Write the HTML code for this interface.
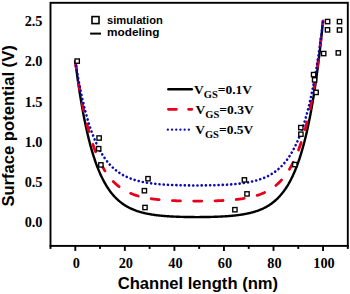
<!DOCTYPE html>
<html><head><meta charset="utf-8"><style>
html,body{margin:0;padding:0;background:#fff;}
body{width:350px;height:294px;overflow:hidden;position:relative;}
svg{position:absolute;left:0;top:0;}
.serif{font-family:"Liberation Serif",serif;font-weight:bold;}
.sans{font-family:"Liberation Sans",sans-serif;font-weight:bold;}
</style></head><body>
<svg width="350" height="294" viewBox="0 0 350 294">
<g fill="none" stroke-linejoin="round">
<path d="M75.30,61.10 L75.92,65.98 L76.54,70.70 L77.16,75.28 L77.78,79.72 L78.40,84.02 L79.02,88.18 L79.64,92.22 L80.25,96.13 L80.87,99.91 L81.49,103.58 L82.11,107.14 L82.73,110.58 L83.35,113.92 L83.97,117.15 L84.59,120.28 L85.21,123.32 L85.83,126.26 L86.45,129.11 L87.07,131.87 L87.69,134.54 L88.31,137.13 L88.93,139.64 L89.55,142.07 L90.16,144.43 L90.78,146.71 L91.40,148.92 L92.02,151.06 L92.64,153.14 L93.26,155.15 L93.88,157.10 L94.50,158.99 L95.12,160.82 L95.74,162.59 L96.36,164.31 L96.98,165.97 L97.60,167.58 L98.22,169.14 L98.84,170.65 L99.46,172.12 L100.07,173.54 L100.69,174.92 L101.31,176.25 L101.93,177.54 L102.55,178.79 L103.17,180.00 L103.79,181.18 L104.41,182.31 L105.03,183.42 L105.65,184.48 L106.27,185.52 L106.89,186.52 L107.51,187.49 L108.13,188.43 L108.75,189.35 L109.37,190.23 L109.98,191.08 L110.60,191.91 L111.22,192.72 L111.84,193.49 L112.46,194.25 L113.08,194.98 L113.70,195.69 L114.32,196.37 L114.94,197.04 L115.56,197.68 L116.18,198.30 L116.80,198.91 L117.42,199.49 L118.04,200.06 L118.66,200.61 L119.28,201.14 L119.89,201.66 L120.51,202.16 L121.13,202.64 L121.75,203.11 L122.37,203.56 L122.99,204.00 L123.61,204.43 L124.23,204.84 L124.85,205.24 L125.47,205.63 L126.09,206.01 L126.71,206.37 L127.33,206.72 L127.95,207.06 L128.57,207.40 L129.19,207.72 L129.81,208.03 L130.42,208.33 L131.04,208.62 L131.66,208.90 L132.28,209.17 L132.90,209.44 L133.52,209.70 L134.14,209.95 L134.76,210.19 L135.38,210.42 L136.00,210.65 L136.62,210.86 L137.24,211.08 L137.86,211.28 L138.48,211.48 L139.10,211.67 L139.72,211.86 L140.33,212.04 L140.95,212.22 L141.57,212.39 L142.19,212.55 L142.81,212.71 L143.43,212.87 L144.05,213.02 L144.67,213.16 L145.29,213.30 L145.91,213.44 L146.53,213.57 L147.15,213.69 L147.77,213.82 L148.39,213.94 L149.01,214.05 L149.62,214.17 L150.24,214.27 L150.86,214.38 L151.48,214.48 L152.10,214.58 L152.72,214.67 L153.34,214.77 L153.96,214.86 L154.58,214.94 L155.20,215.03 L155.82,215.11 L156.44,215.19 L157.06,215.26 L157.68,215.34 L158.30,215.41 L158.92,215.48 L159.53,215.54 L160.15,215.61 L160.77,215.67 L161.39,215.73 L162.01,215.79 L162.63,215.84 L163.25,215.90 L163.87,215.95 L164.49,216.00 L165.11,216.05 L165.73,216.10 L166.35,216.15 L166.97,216.19 L167.59,216.23 L168.21,216.27 L168.83,216.31 L169.44,216.35 L170.06,216.39 L170.68,216.43 L171.30,216.46 L171.92,216.49 L172.54,216.53 L173.16,216.56 L173.78,216.59 L174.40,216.62 L175.02,216.64 L175.64,216.67 L176.26,216.70 L176.88,216.72 L177.50,216.74 L178.12,216.77 L178.74,216.79 L179.36,216.81 L179.97,216.83 L180.59,216.85 L181.21,216.87 L181.83,216.88 L182.45,216.90 L183.07,216.92 L183.69,216.93 L184.31,216.94 L184.93,216.96 L185.55,216.97 L186.17,216.98 L186.79,216.99 L187.41,217.00 L188.03,217.01 L188.65,217.02 L189.26,217.03 L189.88,217.04 L190.50,217.05 L191.12,217.05 L191.74,217.06 L192.36,217.06 L192.98,217.07 L193.60,217.07 L194.22,217.07 L194.84,217.08 L195.46,217.08 L196.08,217.08 L196.70,217.08 L197.32,217.08 L197.94,217.08 L198.56,217.08 L199.18,217.08 L199.79,217.07 L200.41,217.07 L201.03,217.07 L201.65,217.06 L202.27,217.06 L202.89,217.05 L203.51,217.04 L204.13,217.04 L204.75,217.03 L205.37,217.02 L205.99,217.01 L206.61,217.00 L207.23,216.99 L207.85,216.98 L208.47,216.97 L209.08,216.95 L209.70,216.94 L210.32,216.93 L210.94,216.91 L211.56,216.90 L212.18,216.88 L212.80,216.86 L213.42,216.84 L214.04,216.82 L214.66,216.80 L215.28,216.78 L215.90,216.76 L216.52,216.74 L217.14,216.71 L217.76,216.69 L218.38,216.66 L219.00,216.64 L219.61,216.61 L220.23,216.58 L220.85,216.55 L221.47,216.52 L222.09,216.49 L222.71,216.45 L223.33,216.42 L223.95,216.38 L224.57,216.34 L225.19,216.31 L225.81,216.26 L226.43,216.22 L227.05,216.18 L227.67,216.13 L228.29,216.09 L228.90,216.04 L229.52,215.99 L230.14,215.94 L230.76,215.89 L231.38,215.83 L232.00,215.77 L232.62,215.72 L233.24,215.65 L233.86,215.59 L234.48,215.53 L235.10,215.46 L235.72,215.39 L236.34,215.32 L236.96,215.24 L237.58,215.17 L238.20,215.09 L238.81,215.01 L239.43,214.92 L240.05,214.84 L240.67,214.75 L241.29,214.65 L241.91,214.56 L242.53,214.46 L243.15,214.35 L243.77,214.25 L244.39,214.14 L245.01,214.03 L245.63,213.91 L246.25,213.79 L246.87,213.67 L247.49,213.54 L248.11,213.40 L248.73,213.27 L249.34,213.13 L249.96,212.98 L250.58,212.83 L251.20,212.67 L251.82,212.51 L252.44,212.35 L253.06,212.18 L253.68,212.00 L254.30,211.82 L254.92,211.63 L255.54,211.44 L256.16,211.23 L256.78,211.03 L257.40,210.81 L258.02,210.59 L258.63,210.37 L259.25,210.13 L259.87,209.89 L260.49,209.64 L261.11,209.38 L261.73,209.11 L262.35,208.84 L262.97,208.55 L263.59,208.26 L264.21,207.95 L264.83,207.64 L265.45,207.32 L266.07,206.99 L266.69,206.64 L267.31,206.29 L267.93,205.92 L268.55,205.54 L269.16,205.15 L269.78,204.75 L270.40,204.33 L271.02,203.90 L271.64,203.46 L272.26,203.00 L272.88,202.53 L273.50,202.04 L274.12,201.54 L274.74,201.02 L275.36,200.48 L275.98,199.93 L276.60,199.36 L277.22,198.77 L277.84,198.16 L278.45,197.53 L279.07,196.88 L279.69,196.21 L280.31,195.52 L280.93,194.81 L281.55,194.07 L282.17,193.31 L282.79,192.53 L283.41,191.72 L284.03,190.88 L284.65,190.02 L285.27,189.13 L285.89,188.21 L286.51,187.27 L287.13,186.29 L287.75,185.28 L288.37,184.24 L288.98,183.16 L289.60,182.05 L290.22,180.90 L290.84,179.72 L291.46,178.50 L292.08,177.24 L292.70,175.94 L293.32,174.59 L293.94,173.21 L294.56,171.78 L295.18,170.30 L295.80,168.78 L296.42,167.20 L297.04,165.58 L297.66,163.90 L298.27,162.18 L298.89,160.39 L299.51,158.55 L300.13,156.65 L300.75,154.68 L301.37,152.66 L301.99,150.56 L302.61,148.41 L303.23,146.18 L303.85,143.88 L304.47,141.50 L305.09,139.06 L305.71,136.53 L306.33,133.92 L306.95,131.22 L307.57,128.44 L308.19,125.57 L308.80,122.61 L309.42,119.55 L310.04,116.40 L310.66,113.14 L311.28,109.78 L311.90,106.31 L312.52,102.73 L313.14,99.03 L313.76,95.21 L314.38,91.28 L315.00,87.21 L315.62,83.02 L316.24,78.68 L316.86,74.21 L317.48,69.60 L318.10,64.84 L318.71,59.92 L319.33,54.85 L319.95,49.62 L320.57,44.21 L321.19,38.63 L321.81,32.88 L322.43,26.93 L323.05,20.80" stroke="#000" stroke-width="2.4"/>
<path d="M75.30,61.10 L75.92,65.48 L76.54,69.72 L77.16,73.83 L77.78,77.81 L78.40,81.67 L79.02,85.41 L79.64,89.03 L80.25,92.54 L80.87,95.94 L81.49,99.23 L82.11,102.42 L82.73,105.51 L83.35,108.51 L83.97,111.41 L84.59,114.22 L85.21,116.95 L85.83,119.58 L86.45,122.14 L87.07,124.62 L87.69,127.02 L88.31,129.34 L88.93,131.60 L89.55,133.78 L90.16,135.89 L90.78,137.94 L91.40,139.93 L92.02,141.85 L92.64,143.71 L93.26,145.52 L93.88,147.27 L94.50,148.96 L95.12,150.60 L95.74,152.19 L96.36,153.74 L96.98,155.23 L97.60,156.67 L98.22,158.08 L98.84,159.43 L99.46,160.75 L100.07,162.02 L100.69,163.26 L101.31,164.45 L101.93,165.61 L102.55,166.74 L103.17,167.82 L103.79,168.88 L104.41,169.90 L105.03,170.89 L105.65,171.85 L106.27,172.78 L106.89,173.68 L107.51,174.55 L108.13,175.39 L108.75,176.21 L109.37,177.00 L109.98,177.77 L110.60,178.52 L111.22,179.24 L111.84,179.93 L112.46,180.61 L113.08,181.27 L113.70,181.90 L114.32,182.52 L114.94,183.11 L115.56,183.69 L116.18,184.25 L116.80,184.79 L117.42,185.32 L118.04,185.83 L118.66,186.32 L119.28,186.80 L119.89,187.26 L120.51,187.71 L121.13,188.14 L121.75,188.56 L122.37,188.97 L122.99,189.37 L123.61,189.75 L124.23,190.12 L124.85,190.48 L125.47,190.83 L126.09,191.17 L126.71,191.49 L127.33,191.81 L127.95,192.11 L128.57,192.41 L129.19,192.70 L129.81,192.98 L130.42,193.25 L131.04,193.51 L131.66,193.76 L132.28,194.01 L132.90,194.25 L133.52,194.48 L134.14,194.70 L134.76,194.92 L135.38,195.13 L136.00,195.33 L136.62,195.53 L137.24,195.72 L137.86,195.90 L138.48,196.08 L139.10,196.25 L139.72,196.42 L140.33,196.58 L140.95,196.74 L141.57,196.89 L142.19,197.04 L142.81,197.18 L143.43,197.32 L144.05,197.46 L144.67,197.59 L145.29,197.71 L145.91,197.83 L146.53,197.95 L147.15,198.07 L147.77,198.18 L148.39,198.28 L149.01,198.39 L149.62,198.49 L150.24,198.59 L150.86,198.68 L151.48,198.77 L152.10,198.86 L152.72,198.95 L153.34,199.03 L153.96,199.11 L154.58,199.19 L155.20,199.26 L155.82,199.33 L156.44,199.40 L157.06,199.47 L157.68,199.54 L158.30,199.60 L158.92,199.66 L159.53,199.72 L160.15,199.78 L160.77,199.84 L161.39,199.89 L162.01,199.94 L162.63,199.99 L163.25,200.04 L163.87,200.09 L164.49,200.14 L165.11,200.18 L165.73,200.22 L166.35,200.26 L166.97,200.30 L167.59,200.34 L168.21,200.38 L168.83,200.42 L169.44,200.45 L170.06,200.48 L170.68,200.52 L171.30,200.55 L171.92,200.58 L172.54,200.61 L173.16,200.63 L173.78,200.66 L174.40,200.69 L175.02,200.71 L175.64,200.73 L176.26,200.76 L176.88,200.78 L177.50,200.80 L178.12,200.82 L178.74,200.84 L179.36,200.86 L179.97,200.88 L180.59,200.89 L181.21,200.91 L181.83,200.93 L182.45,200.94 L183.07,200.95 L183.69,200.97 L184.31,200.98 L184.93,200.99 L185.55,201.00 L186.17,201.01 L186.79,201.02 L187.41,201.03 L188.03,201.04 L188.65,201.05 L189.26,201.06 L189.88,201.06 L190.50,201.07 L191.12,201.07 L191.74,201.08 L192.36,201.08 L192.98,201.09 L193.60,201.09 L194.22,201.09 L194.84,201.10 L195.46,201.10 L196.08,201.10 L196.70,201.10 L197.32,201.10 L197.94,201.10 L198.56,201.10 L199.18,201.09 L199.79,201.09 L200.41,201.09 L201.03,201.08 L201.65,201.08 L202.27,201.07 L202.89,201.07 L203.51,201.06 L204.13,201.06 L204.75,201.05 L205.37,201.04 L205.99,201.03 L206.61,201.02 L207.23,201.01 L207.85,201.00 L208.47,200.99 L209.08,200.98 L209.70,200.97 L210.32,200.95 L210.94,200.94 L211.56,200.93 L212.18,200.91 L212.80,200.89 L213.42,200.88 L214.04,200.86 L214.66,200.84 L215.28,200.82 L215.90,200.80 L216.52,200.78 L217.14,200.76 L217.76,200.74 L218.38,200.71 L219.00,200.69 L219.61,200.66 L220.23,200.63 L220.85,200.61 L221.47,200.58 L222.09,200.55 L222.71,200.52 L223.33,200.49 L223.95,200.45 L224.57,200.42 L225.19,200.38 L225.81,200.34 L226.43,200.31 L227.05,200.27 L227.67,200.22 L228.29,200.18 L228.90,200.14 L229.52,200.09 L230.14,200.05 L230.76,200.00 L231.38,199.95 L232.00,199.89 L232.62,199.84 L233.24,199.78 L233.86,199.73 L234.48,199.67 L235.10,199.60 L235.72,199.54 L236.34,199.47 L236.96,199.41 L237.58,199.34 L238.20,199.26 L238.81,199.19 L239.43,199.11 L240.05,199.03 L240.67,198.95 L241.29,198.86 L241.91,198.77 L242.53,198.68 L243.15,198.59 L243.77,198.49 L244.39,198.39 L245.01,198.29 L245.63,198.18 L246.25,198.07 L246.87,197.96 L247.49,197.84 L248.11,197.72 L248.73,197.59 L249.34,197.46 L249.96,197.33 L250.58,197.19 L251.20,197.05 L251.82,196.90 L252.44,196.75 L253.06,196.59 L253.68,196.43 L254.30,196.26 L254.92,196.09 L255.54,195.91 L256.16,195.72 L256.78,195.53 L257.40,195.34 L258.02,195.13 L258.63,194.92 L259.25,194.71 L259.87,194.49 L260.49,194.25 L261.11,194.02 L261.73,193.77 L262.35,193.52 L262.97,193.26 L263.59,192.99 L264.21,192.71 L264.83,192.42 L265.45,192.13 L266.07,191.82 L266.69,191.50 L267.31,191.18 L267.93,190.84 L268.55,190.49 L269.16,190.13 L269.78,189.76 L270.40,189.38 L271.02,188.99 L271.64,188.58 L272.26,188.16 L272.88,187.72 L273.50,187.28 L274.12,186.81 L274.74,186.34 L275.36,185.84 L275.98,185.34 L276.60,184.81 L277.22,184.27 L277.84,183.71 L278.45,183.13 L279.07,182.54 L279.69,181.92 L280.31,181.29 L280.93,180.63 L281.55,179.96 L282.17,179.26 L282.79,178.54 L283.41,177.80 L284.03,177.03 L284.65,176.24 L285.27,175.42 L285.89,174.58 L286.51,173.71 L287.13,172.81 L287.75,171.88 L288.37,170.92 L288.98,169.93 L289.60,168.91 L290.22,167.86 L290.84,166.77 L291.46,165.65 L292.08,164.50 L292.70,163.30 L293.32,162.07 L293.94,160.79 L294.56,159.48 L295.18,158.12 L295.80,156.72 L296.42,155.28 L297.04,153.79 L297.66,152.25 L298.27,150.66 L298.89,149.02 L299.51,147.33 L300.13,145.58 L300.75,143.78 L301.37,141.92 L301.99,139.99 L302.61,138.01 L303.23,135.97 L303.85,133.85 L304.47,131.67 L305.09,129.42 L305.71,127.10 L306.33,124.70 L306.95,122.23 L307.57,119.67 L308.19,117.04 L308.80,114.32 L309.42,111.51 L310.04,108.61 L310.66,105.62 L311.28,102.53 L311.90,99.34 L312.52,96.05 L313.14,92.66 L313.76,89.15 L314.38,85.53 L315.00,81.80 L315.62,77.95 L316.24,73.97 L316.86,69.86 L317.48,65.63 L318.10,61.25 L318.71,56.74 L319.33,52.08 L319.95,47.27 L320.57,42.30 L321.19,37.18 L321.81,31.89 L322.43,26.43 L323.05,20.80" stroke="#e8001a" stroke-width="2.8" stroke-dasharray="8 13.3" stroke-linecap="round"/>
<path d="M75.30,61.10 L75.92,64.99 L76.54,68.76 L77.16,72.41 L77.78,75.94 L78.40,79.37 L79.02,82.69 L79.64,85.91 L80.25,89.02 L80.87,92.04 L81.49,94.97 L82.11,97.80 L82.73,100.55 L83.35,103.21 L83.97,105.79 L84.59,108.28 L85.21,110.70 L85.83,113.05 L86.45,115.32 L87.07,117.52 L87.69,119.65 L88.31,121.71 L88.93,123.71 L89.55,125.65 L90.16,127.53 L90.78,129.35 L91.40,131.11 L92.02,132.82 L92.64,134.48 L93.26,136.08 L93.88,137.63 L94.50,139.14 L95.12,140.60 L95.74,142.01 L96.36,143.38 L96.98,144.70 L97.60,145.99 L98.22,147.23 L98.84,148.44 L99.46,149.61 L100.07,150.74 L100.69,151.84 L101.31,152.90 L101.93,153.93 L102.55,154.93 L103.17,155.89 L103.79,156.83 L104.41,157.73 L105.03,158.61 L105.65,159.46 L106.27,160.29 L106.89,161.09 L107.51,161.86 L108.13,162.61 L108.75,163.34 L109.37,164.04 L109.98,164.73 L110.60,165.39 L111.22,166.03 L111.84,166.65 L112.46,167.25 L113.08,167.83 L113.70,168.40 L114.32,168.94 L114.94,169.47 L115.56,169.98 L116.18,170.48 L116.80,170.96 L117.42,171.43 L118.04,171.88 L118.66,172.32 L119.28,172.74 L119.89,173.15 L120.51,173.55 L121.13,173.94 L121.75,174.31 L122.37,174.67 L122.99,175.03 L123.61,175.37 L124.23,175.69 L124.85,176.01 L125.47,176.32 L126.09,176.62 L126.71,176.91 L127.33,177.19 L127.95,177.47 L128.57,177.73 L129.19,177.99 L129.81,178.23 L130.42,178.47 L131.04,178.70 L131.66,178.93 L132.28,179.15 L132.90,179.36 L133.52,179.56 L134.14,179.76 L134.76,179.95 L135.38,180.14 L136.00,180.32 L136.62,180.50 L137.24,180.66 L137.86,180.83 L138.48,180.99 L139.10,181.14 L139.72,181.29 L140.33,181.43 L140.95,181.57 L141.57,181.71 L142.19,181.84 L142.81,181.97 L143.43,182.09 L144.05,182.21 L144.67,182.32 L145.29,182.44 L145.91,182.54 L146.53,182.65 L147.15,182.75 L147.77,182.85 L148.39,182.94 L149.01,183.04 L149.62,183.13 L150.24,183.21 L150.86,183.30 L151.48,183.38 L152.10,183.46 L152.72,183.53 L153.34,183.61 L153.96,183.68 L154.58,183.75 L155.20,183.81 L155.82,183.88 L156.44,183.94 L157.06,184.00 L157.68,184.06 L158.30,184.12 L158.92,184.17 L159.53,184.22 L160.15,184.27 L160.77,184.32 L161.39,184.37 L162.01,184.42 L162.63,184.46 L163.25,184.51 L163.87,184.55 L164.49,184.59 L165.11,184.63 L165.73,184.67 L166.35,184.70 L166.97,184.74 L167.59,184.77 L168.21,184.81 L168.83,184.84 L169.44,184.87 L170.06,184.90 L170.68,184.93 L171.30,184.95 L171.92,184.98 L172.54,185.01 L173.16,185.03 L173.78,185.05 L174.40,185.08 L175.02,185.10 L175.64,185.12 L176.26,185.14 L176.88,185.16 L177.50,185.18 L178.12,185.20 L178.74,185.21 L179.36,185.23 L179.97,185.25 L180.59,185.26 L181.21,185.27 L181.83,185.29 L182.45,185.30 L183.07,185.31 L183.69,185.32 L184.31,185.34 L184.93,185.35 L185.55,185.36 L186.17,185.37 L186.79,185.37 L187.41,185.38 L188.03,185.39 L188.65,185.40 L189.26,185.40 L189.88,185.41 L190.50,185.41 L191.12,185.42 L191.74,185.42 L192.36,185.43 L192.98,185.43 L193.60,185.43 L194.22,185.43 L194.84,185.44 L195.46,185.44 L196.08,185.44 L196.70,185.44 L197.32,185.44 L197.94,185.44 L198.56,185.43 L199.18,185.43 L199.79,185.43 L200.41,185.43 L201.03,185.42 L201.65,185.42 L202.27,185.41 L202.89,185.41 L203.51,185.40 L204.13,185.40 L204.75,185.39 L205.37,185.38 L205.99,185.37 L206.61,185.37 L207.23,185.36 L207.85,185.35 L208.47,185.34 L209.08,185.33 L209.70,185.31 L210.32,185.30 L210.94,185.29 L211.56,185.28 L212.18,185.26 L212.80,185.25 L213.42,185.23 L214.04,185.22 L214.66,185.20 L215.28,185.18 L215.90,185.16 L216.52,185.14 L217.14,185.12 L217.76,185.10 L218.38,185.08 L219.00,185.06 L219.61,185.03 L220.23,185.01 L220.85,184.98 L221.47,184.96 L222.09,184.93 L222.71,184.90 L223.33,184.87 L223.95,184.84 L224.57,184.81 L225.19,184.78 L225.81,184.74 L226.43,184.71 L227.05,184.67 L227.67,184.63 L228.29,184.60 L228.90,184.56 L229.52,184.51 L230.14,184.47 L230.76,184.43 L231.38,184.38 L232.00,184.33 L232.62,184.28 L233.24,184.23 L233.86,184.18 L234.48,184.12 L235.10,184.07 L235.72,184.01 L236.34,183.95 L236.96,183.89 L237.58,183.82 L238.20,183.76 L238.81,183.69 L239.43,183.62 L240.05,183.54 L240.67,183.47 L241.29,183.39 L241.91,183.31 L242.53,183.23 L243.15,183.14 L243.77,183.05 L244.39,182.96 L245.01,182.86 L245.63,182.77 L246.25,182.67 L246.87,182.56 L247.49,182.45 L248.11,182.34 L248.73,182.23 L249.34,182.11 L249.96,181.99 L250.58,181.86 L251.20,181.73 L251.82,181.60 L252.44,181.46 L253.06,181.31 L253.68,181.16 L254.30,181.01 L254.92,180.85 L255.54,180.69 L256.16,180.52 L256.78,180.35 L257.40,180.17 L258.02,179.98 L258.63,179.79 L259.25,179.60 L259.87,179.39 L260.49,179.18 L261.11,178.97 L261.73,178.74 L262.35,178.51 L262.97,178.27 L263.59,178.03 L264.21,177.77 L264.83,177.51 L265.45,177.24 L266.07,176.96 L266.69,176.67 L267.31,176.37 L267.93,176.06 L268.55,175.75 L269.16,175.42 L269.78,175.08 L270.40,174.73 L271.02,174.37 L271.64,174.00 L272.26,173.62 L272.88,173.22 L273.50,172.81 L274.12,172.39 L274.74,171.95 L275.36,171.50 L275.98,171.04 L276.60,170.56 L277.22,170.07 L277.84,169.55 L278.45,169.03 L279.07,168.48 L279.69,167.92 L280.31,167.34 L280.93,166.75 L281.55,166.13 L282.17,165.49 L282.79,164.83 L283.41,164.15 L284.03,163.45 L284.65,162.73 L285.27,161.98 L285.89,161.21 L286.51,160.42 L287.13,159.60 L287.75,158.75 L288.37,157.88 L288.98,156.97 L289.60,156.04 L290.22,155.08 L290.84,154.09 L291.46,153.07 L292.08,152.01 L292.70,150.92 L293.32,149.79 L293.94,148.63 L294.56,147.43 L295.18,146.19 L295.80,144.91 L296.42,143.59 L297.04,142.23 L297.66,140.83 L298.27,139.37 L298.89,137.88 L299.51,136.33 L300.13,134.74 L300.75,133.09 L301.37,131.39 L301.99,129.64 L302.61,127.83 L303.23,125.96 L303.85,124.03 L304.47,122.04 L305.09,119.98 L305.71,117.86 L306.33,115.67 L306.95,113.41 L307.57,111.08 L308.19,108.67 L308.80,106.19 L309.42,103.63 L310.04,100.98 L310.66,98.25 L311.28,95.43 L311.90,92.52 L312.52,89.51 L313.14,86.41 L313.76,83.21 L314.38,79.91 L315.00,76.50 L315.62,72.98 L316.24,69.35 L316.86,65.60 L317.48,61.73 L318.10,57.74 L318.71,53.61 L319.33,49.36 L319.95,44.97 L320.57,40.44 L321.19,35.76 L321.81,30.93 L322.43,25.94 L323.05,20.80" stroke="#0a0ab4" stroke-width="2.6" stroke-dasharray="0.1 4.12" stroke-dashoffset="-0.6" stroke-linecap="round"/>
</g>
<g fill="#fff" stroke="#000" stroke-width="1.35">
<rect x="75.05" y="58.95" width="4.3" height="4.3"/>
<rect x="96.95" y="135.85" width="4.3" height="4.3"/>
<rect x="96.55" y="146.55" width="4.3" height="4.3"/>
<rect x="98.75" y="162.75" width="4.3" height="4.3"/>
<rect x="145.85" y="176.55" width="4.3" height="4.3"/>
<rect x="142.25" y="188.55" width="4.3" height="4.3"/>
<rect x="142.85" y="205.35" width="4.3" height="4.3"/>
<rect x="242.25" y="177.75" width="4.3" height="4.3"/>
<rect x="244.85" y="191.75" width="4.3" height="4.3"/>
<rect x="232.75" y="207.55" width="4.3" height="4.3"/>
<rect x="292.65" y="162.45" width="4.3" height="4.3"/>
<rect x="298.65" y="125.45" width="4.3" height="4.3"/>
<rect x="298.75" y="132.05" width="4.3" height="4.3"/>
<rect x="311.45" y="72.45" width="4.3" height="4.3"/>
<rect x="312.45" y="77.75" width="4.3" height="4.3"/>
<rect x="313.95" y="90.25" width="4.3" height="4.3"/>
<rect x="321.55" y="51.40" width="4.3" height="4.3"/>
<rect x="336.15" y="50.75" width="4.3" height="4.3"/>
<rect x="325.45" y="19.40" width="4.3" height="4.3"/>
<rect x="337.35" y="19.45" width="4.3" height="4.3"/>
<rect x="325.35" y="27.70" width="4.3" height="4.3"/>
<rect x="337.35" y="27.85" width="4.3" height="4.3"/>
</g>
<rect x="50.5" y="2.8" width="297.3" height="243.1" fill="none" stroke="#000" stroke-width="1.9"/>
<g stroke="#000" stroke-width="1.9">
<line x1="50.52" y1="245" x2="50.52" y2="248.9"/><line x1="75.30" y1="245" x2="75.30" y2="250.9"/><line x1="100.07" y1="245" x2="100.07" y2="248.9"/><line x1="124.85" y1="245" x2="124.85" y2="250.9"/><line x1="149.62" y1="245" x2="149.62" y2="248.9"/><line x1="174.40" y1="245" x2="174.40" y2="250.9"/><line x1="199.18" y1="245" x2="199.18" y2="248.9"/><line x1="223.95" y1="245" x2="223.95" y2="250.9"/><line x1="248.73" y1="245" x2="248.73" y2="248.9"/><line x1="273.50" y1="245" x2="273.50" y2="250.9"/><line x1="298.27" y1="245" x2="298.27" y2="248.9"/><line x1="323.05" y1="245" x2="323.05" y2="250.9"/><line x1="347.82" y1="245" x2="347.82" y2="248.9"/>
</g>
<g class="serif" font-size="14.3" text-anchor="middle" fill="#000">
<text x="76.30" y="268.4">0</text><text x="125.85" y="268.4">20</text><text x="175.40" y="268.4">40</text><text x="224.95" y="268.4">60</text><text x="274.50" y="268.4">80</text><text x="324.05" y="268.4">100</text>
</g>
<g class="serif" font-size="14.3" text-anchor="end" fill="#000">
<text x="42.5" y="227.20">0.0</text><text x="42.5" y="187.00">0.5</text><text x="42.5" y="146.80">1.0</text><text x="42.5" y="106.60">1.5</text><text x="42.5" y="66.40">2.0</text><text x="42.5" y="26.20">2.5</text>
</g>
<text class="sans" font-size="16.6" x="197.9" y="289.3" text-anchor="middle" fill="#000">Channel length (nm)</text>
<text class="sans" font-size="16.6" transform="translate(13.5,125.95) rotate(-90)" text-anchor="middle" fill="#000">Surface potential (V)</text>
<!-- legend 1 -->
<rect x="92" y="16.6" width="7" height="7" fill="#fff" stroke="#000" stroke-width="1.6"/>
<line x1="90.1" y1="33.6" x2="101" y2="33.6" stroke="#000" stroke-width="2"/>
<text class="sans" font-size="11.8" x="107" y="24.3" fill="#000" textLength="55.8" lengthAdjust="spacingAndGlyphs">simulation</text>
<text class="sans" font-size="11.8" x="107" y="36" fill="#000">modeling</text>
<!-- legend 2 -->
<line x1="168.4" y1="89.3" x2="191.8" y2="89.3" stroke="#000" stroke-width="2.6" stroke-linecap="round"/>
<line x1="168.4" y1="109.3" x2="191.8" y2="109.3" stroke="#e8001a" stroke-width="2.8" stroke-dasharray="8 12.2" stroke-linecap="round"/>
<line x1="167.8" y1="129.7" x2="190" y2="129.7" stroke="#0a0ab4" stroke-width="2.2" stroke-dasharray="0.1 4.1" stroke-linecap="round"/>
<g class="serif" fill="#000">
<text x="194" y="93.6" font-size="13.5">V<tspan font-size="10.5" dy="4">GS</tspan><tspan dy="-4">=0.1V</tspan></text>
<text x="195.6" y="113.6" font-size="13.5">V<tspan font-size="10.5" dy="4">GS</tspan><tspan dy="-4">=0.3V</tspan></text>
<text x="195.2" y="133.6" font-size="13.5">V<tspan font-size="10.5" dy="4">GS</tspan><tspan dy="-4">=0.5V</tspan></text>
</g>
</svg>
</body></html>
